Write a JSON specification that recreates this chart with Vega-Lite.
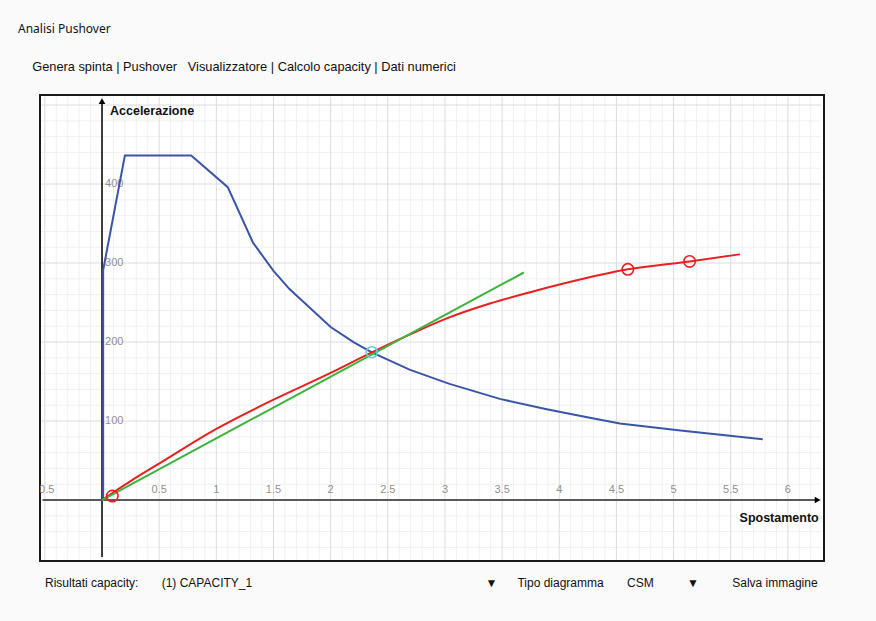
{
  "$schema": "https://vega.github.io/schema/vega-lite/v6.json",
  "width": 784,
  "height": 466,
  "autosize": {"type": "none"},
  "padding": {"left": 40, "top": 95, "right": 52, "bottom": 60},
  "background": "#fafafa",
  "title": {
    "text": "Analisi Pushover",
    "subtitle": "\u200b\u00a0\u00a0\u00a0\u00a0Genera spinta | Pushover \u00a0 Visualizzatore | Calcolo capacity | Dati numerici",
    "anchor": "start",
    "frame": "group",
    "dx": -22,
    "offset": 20,
    "font": "Noto Sans",
    "fontSize": 12,
    "fontWeight": "normal",
    "color": "#111111",
    "subtitleFont": "Liberation Sans",
    "subtitleFontSize": 12.8,
    "subtitleColor": "#111111",
    "subtitlePadding": 25
  },
  "config": {
    "view": {"stroke": "#1a1a1a", "strokeWidth": 2, "fill": "white"}
  },
  "datasets": {
    "xgrid": [
      {"v": -0.5}, {"v": -0.4}, {"v": -0.3}, {"v": -0.2}, {"v": -0.1}, {"v": 0}, {"v": 0.1}, {"v": 0.2}, {"v": 0.3}, {"v": 0.4},
      {"v": 0.5}, {"v": 0.6}, {"v": 0.7}, {"v": 0.8}, {"v": 0.9}, {"v": 1}, {"v": 1.1}, {"v": 1.2}, {"v": 1.3}, {"v": 1.4},
      {"v": 1.5}, {"v": 1.6}, {"v": 1.7}, {"v": 1.8}, {"v": 1.9}, {"v": 2}, {"v": 2.1}, {"v": 2.2}, {"v": 2.3}, {"v": 2.4},
      {"v": 2.5}, {"v": 2.6}, {"v": 2.7}, {"v": 2.8}, {"v": 2.9}, {"v": 3}, {"v": 3.1}, {"v": 3.2}, {"v": 3.3}, {"v": 3.4},
      {"v": 3.5}, {"v": 3.6}, {"v": 3.7}, {"v": 3.8}, {"v": 3.9}, {"v": 4}, {"v": 4.1}, {"v": 4.2}, {"v": 4.3}, {"v": 4.4},
      {"v": 4.5}, {"v": 4.6}, {"v": 4.7}, {"v": 4.8}, {"v": 4.9}, {"v": 5}, {"v": 5.1}, {"v": 5.2}, {"v": 5.3}, {"v": 5.4},
      {"v": 5.5}, {"v": 5.6}, {"v": 5.7}, {"v": 5.8}, {"v": 5.9}, {"v": 6}, {"v": 6.1}, {"v": 6.2}
    ],
    "ygrid": [
      {"v": -60}, {"v": -40}, {"v": -20}, {"v": 0}, {"v": 20}, {"v": 40}, {"v": 60}, {"v": 80}, {"v": 100}, {"v": 120},
      {"v": 140}, {"v": 160}, {"v": 180}, {"v": 200}, {"v": 220}, {"v": 240}, {"v": 260}, {"v": 280}, {"v": 300}, {"v": 320},
      {"v": 340}, {"v": 360}, {"v": 380}, {"v": 400}, {"v": 420}, {"v": 440}, {"v": 460}, {"v": 480}, {"v": 500}
    ],
    "demand": [
      {"i": 0, "x": 0.01, "y": 0},
      {"i": 1, "x": 0.01, "y": 291},
      {"i": 2, "x": 0.2, "y": 436},
      {"i": 3, "x": 0.78, "y": 436},
      {"i": 4, "x": 1.1, "y": 396},
      {"i": 5, "x": 1.32, "y": 326},
      {"i": 6, "x": 1.5, "y": 290},
      {"i": 7, "x": 1.64, "y": 267},
      {"i": 8, "x": 1.73, "y": 255},
      {"i": 9, "x": 2.0, "y": 219},
      {"i": 10, "x": 2.2, "y": 200},
      {"i": 11, "x": 2.36, "y": 187},
      {"i": 12, "x": 2.69, "y": 165},
      {"i": 13, "x": 3.04, "y": 147},
      {"i": 14, "x": 3.48, "y": 128},
      {"i": 15, "x": 3.89, "y": 115},
      {"i": 16, "x": 4.2, "y": 106},
      {"i": 17, "x": 4.53, "y": 97},
      {"i": 18, "x": 5.06, "y": 88},
      {"i": 19, "x": 5.78, "y": 77}
    ],
    "capacity": [
      {"x": 0, "y": 0},
      {"x": 0.25, "y": 24},
      {"x": 0.51, "y": 47},
      {"x": 1.0, "y": 90},
      {"x": 1.5, "y": 127},
      {"x": 2.0, "y": 161},
      {"x": 2.36, "y": 187},
      {"x": 2.7, "y": 210},
      {"x": 3.0, "y": 229},
      {"x": 3.4, "y": 249},
      {"x": 3.77, "y": 264},
      {"x": 4.21, "y": 280},
      {"x": 4.6, "y": 292},
      {"x": 5.14, "y": 302},
      {"x": 5.58, "y": 311}
    ],
    "bilinear": [
      {"x": 0, "y": 0},
      {"x": 3.69, "y": 288}
    ],
    "capPoints": [
      {"x": 0.09, "y": 5},
      {"x": 4.6, "y": 292},
      {"x": 5.14, "y": 302}
    ],
    "perfPoint": [
      {"x": 2.36, "y": 187}
    ],
    "xticks": [
      {"v": -0.5, "label": "-0.5"},
      {"v": 0.5, "label": "0.5"},
      {"v": 1, "label": "1"},
      {"v": 1.5, "label": "1.5"},
      {"v": 2, "label": "2"},
      {"v": 2.5, "label": "2.5"},
      {"v": 3, "label": "3"},
      {"v": 3.5, "label": "3.5"},
      {"v": 4, "label": "4"},
      {"v": 4.5, "label": "4.5"},
      {"v": 5, "label": "5"},
      {"v": 5.5, "label": "5.5"},
      {"v": 6, "label": "6"}
    ],
    "yticks": [
      {"v": 100, "label": "100"},
      {"v": 200, "label": "200"},
      {"v": 300, "label": "300"},
      {"v": 400, "label": "400"}
    ]
  },
  "layer": [
    {
      "data": {"name": "xgrid"},
      "transform": [{"filter": "abs(datum.v*2 - round(datum.v*2)) > 0.001"}],
      "mark": {"type": "rule", "color": "#f0f0f0", "strokeWidth": 1},
      "encoding": {
        "x": {
          "field": "v", "type": "quantitative",
          "scale": {"domain": [-0.5425, 6.316], "nice": false, "zero": false},
          "axis": null
        },
        "y": {"datum": -75.5, "type": "quantitative", "scale": {"domain": [-77.2, 512.7], "nice": false, "zero": false}, "axis": null},
        "y2": {"datum": 510.5}
      }
    },
    {
      "data": {"name": "ygrid"},
      "transform": [{"filter": "datum.v % 100 !== 0"}],
      "mark": {"type": "rule", "color": "#f0f0f0", "strokeWidth": 1},
      "encoding": {
        "y": {"field": "v", "type": "quantitative", "axis": null},
        "x": {"datum": -0.53, "type": "quantitative", "axis": null},
        "x2": {"datum": 6.29}
      }
    },
    {
      "data": {"name": "xgrid"},
      "transform": [{"filter": "abs(datum.v*2 - round(datum.v*2)) <= 0.001"}],
      "mark": {"type": "rule", "color": "#dcdcdc", "strokeWidth": 1},
      "encoding": {
        "x": {"field": "v", "type": "quantitative", "axis": null},
        "y": {"datum": -75.5, "type": "quantitative", "axis": null},
        "y2": {"datum": 510.5}
      }
    },
    {
      "data": {"name": "ygrid"},
      "transform": [{"filter": "datum.v % 100 === 0"}],
      "mark": {"type": "rule", "color": "#dcdcdc", "strokeWidth": 1},
      "encoding": {
        "y": {"field": "v", "type": "quantitative", "axis": null},
        "x": {"datum": -0.53, "type": "quantitative", "axis": null},
        "x2": {"datum": 6.29}
      }
    },
    {
      "data": {"values": [{}]},
      "mark": {"type": "rule", "color": "#000000", "strokeWidth": 1.5},
      "encoding": {
        "x": {"datum": 0, "type": "quantitative", "axis": null},
        "y": {"datum": -72, "type": "quantitative", "axis": null},
        "y2": {"datum": 505}
      }
    },
    {
      "data": {"values": [{}]},
      "mark": {"type": "rule", "color": "#595959", "strokeWidth": 2},
      "encoding": {
        "x": {"datum": -0.52, "type": "quantitative", "axis": null},
        "x2": {"datum": 6.24},
        "y": {"datum": 0, "type": "quantitative", "axis": null}
      }
    },
    {
      "data": {"values": [{}]},
      "mark": {"type": "point", "shape": "triangle-right", "filled": true, "color": "#000000", "size": 45, "opacity": 1},
      "encoding": {
        "x": {"datum": 6.26, "type": "quantitative", "axis": null},
        "y": {"datum": 0, "type": "quantitative", "axis": null}
      }
    },
    {
      "data": {"values": [{}]},
      "mark": {"type": "point", "shape": "triangle-up", "filled": true, "color": "#000000", "size": 45, "opacity": 1},
      "encoding": {
        "x": {"datum": 0, "type": "quantitative", "axis": null},
        "y": {"datum": 505, "type": "quantitative", "axis": null}
      }
    },
    {
      "data": {"name": "xticks"},
      "mark": {"type": "text", "font": "Liberation Sans", "fontSize": 11, "color": "#909090", "baseline": "middle", "align": "center", "dy": -10, "clip": true},
      "encoding": {
        "x": {"field": "v", "type": "quantitative", "axis": null},
        "y": {"datum": 0, "type": "quantitative", "axis": null},
        "text": {"field": "label"}
      }
    },
    {
      "data": {"name": "yticks"},
      "mark": {"type": "text", "font": "Liberation Sans", "fontSize": 11, "color": "#909090", "baseline": "middle", "align": "left", "dx": 3},
      "encoding": {
        "x": {"datum": 0, "type": "quantitative", "axis": null},
        "y": {"field": "v", "type": "quantitative", "axis": null},
        "text": {"field": "label"}
      }
    },
    {
      "data": {"name": "demand"},
      "mark": {"type": "line", "color": "#3a55a8", "strokeWidth": 2},
      "encoding": {
        "x": {"field": "x", "type": "quantitative", "axis": null},
        "y": {"field": "y", "type": "quantitative", "axis": null},
        "order": {"field": "i"}
      }
    },
    {
      "data": {"name": "capacity"},
      "mark": {"type": "line", "color": "#e82020", "strokeWidth": 2, "interpolate": "monotone"},
      "encoding": {
        "x": {"field": "x", "type": "quantitative", "axis": null},
        "y": {"field": "y", "type": "quantitative", "axis": null}
      }
    },
    {
      "data": {"name": "bilinear"},
      "mark": {"type": "line", "color": "#3db33d", "strokeWidth": 2},
      "encoding": {
        "x": {"field": "x", "type": "quantitative", "axis": null},
        "y": {"field": "y", "type": "quantitative", "axis": null}
      }
    },
    {
      "data": {"name": "capPoints"},
      "mark": {"type": "point", "filled": false, "color": "#e82020", "strokeWidth": 1.6, "size": 130, "opacity": 1},
      "encoding": {
        "x": {"field": "x", "type": "quantitative", "axis": null},
        "y": {"field": "y", "type": "quantitative", "axis": null}
      }
    },
    {
      "data": {"name": "perfPoint"},
      "mark": {"type": "point", "filled": false, "color": "#6cc8df", "strokeWidth": 1.6, "size": 120, "opacity": 1},
      "encoding": {
        "x": {"field": "x", "type": "quantitative", "axis": null},
        "y": {"field": "y", "type": "quantitative", "axis": null}
      }
    },
    {
      "data": {"values": [{"label": "Accelerazione"}]},
      "mark": {"type": "text", "font": "Liberation Sans", "fontSize": 12.5, "fontWeight": "bold", "color": "#111111", "align": "left", "baseline": "middle", "dx": 8},
      "encoding": {
        "x": {"datum": 0, "type": "quantitative", "axis": null},
        "y": {"datum": 492, "type": "quantitative", "axis": null},
        "text": {"field": "label"}
      }
    },
    {
      "data": {"values": [{"label": "Spostamento"}]},
      "mark": {"type": "text", "font": "Liberation Sans", "fontSize": 12.5, "fontWeight": "bold", "color": "#111111", "align": "right", "baseline": "middle"},
      "encoding": {
        "x": {"datum": 6.27, "type": "quantitative", "axis": null},
        "y": {"datum": -23, "type": "quantitative", "axis": null},
        "text": {"field": "label"}
      }
    },
    {
      "data": {"values": [{"label": "Risultati capacity:\u00a0\u00a0\u00a0\u00a0\u00a0\u00a0\u00a0(1) CAPACITY_1\u00a0\u00a0\u00a0\u00a0\u00a0\u00a0\u00a0\u00a0\u00a0\u00a0\u00a0\u00a0\u00a0\u00a0\u00a0\u00a0\u00a0\u00a0\u00a0\u00a0\u00a0\u00a0\u00a0\u00a0\u00a0\u00a0\u00a0\u00a0\u00a0\u00a0\u00a0\u00a0\u00a0\u00a0\u00a0\u00a0\u00a0\u00a0\u00a0\u00a0\u00a0\u00a0\u00a0\u00a0\u00a0\u00a0\u00a0\u00a0\u00a0\u00a0\u00a0\u00a0\u00a0\u00a0\u00a0\u00a0\u00a0\u00a0\u00a0\u00a0\u00a0\u00a0\u00a0\u00a0\u00a0\u00a0\u00a0\u00a0\u00a0\u00a0\u25bc\u00a0\u00a0\u00a0\u00a0\u00a0\u00a0Tipo diagramma\u00a0\u00a0\u00a0\u00a0\u00a0\u00a0\u00a0CSM\u00a0\u00a0\u00a0\u00a0\u00a0\u00a0\u00a0\u00a0\u00a0\u00a0\u25bc\u00a0\u00a0\u00a0\u00a0\u00a0\u00a0\u00a0\u00a0\u00a0\u00a0Salva immagine"}]},
      "mark": {"type": "text", "font": "Liberation Sans", "fontSize": 12, "color": "#111111", "align": "left", "baseline": "middle", "clip": false},
      "encoding": {
        "x": {"datum": -0.499, "type": "quantitative", "axis": null},
        "y": {"datum": -105, "type": "quantitative", "axis": null},
        "text": {"field": "label"}
      }
    }
  ]
}
